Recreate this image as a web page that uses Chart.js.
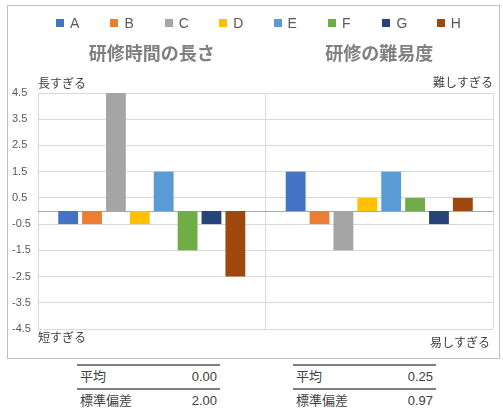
<!DOCTYPE html>
<html lang="ja">
<head>
<meta charset="UTF-8" />
<title>研修アンケート</title>
<script src="https://cdn.jsdelivr.net/npm/chart.js@4.4.1/dist/chart.umd.min.js"></script>
<style>
  body { margin: 0; background: #fff; font-family: "Liberation Sans", "Noto Sans CJK JP", sans-serif; color: #404040; }
  #box { position: absolute; left: 7px; top: 5px; width: 493px; height: 354px; border: 1px solid #bfbfbf; box-sizing: border-box; }
  #legend .item { position: absolute; top: 15px; height: 16px; line-height: 16px; font-size: 14px; color: #595959; white-space: nowrap; }
  #legend .sw { display: inline-block; width: 8px; height: 8px; margin-right: 6px; vertical-align: 1px; }
  .stats { position: absolute; top: 364px; width: 143px; font-size: 13px; color: #404040; }
  .stats .row { border-top: 2px solid #808080; height: 22px; line-height: 22px; padding: 0 3px; display: flex; justify-content: space-between; }
</style>
</head>
<body>

<div id="box"><canvas id="chart" width="491" height="352"></canvas></div>
<div id="legend"></div>
<div class="stats" id="stats0" style="left:77px"></div>
<div class="stats" id="stats1" style="left:293px"></div>

<script>
  // data
  const categories = ['研修時間の長さ', '研修の難易度'];
  const seriesNames = ['A', 'B', 'C', 'D', 'E', 'F', 'G', 'H'];
  const lengthValues = [-0.5, -0.5, 4.5, -0.5, 1.5, -1.5, -0.5, -2.5];
  const difficultyValues = [1.5, -0.5, -1.5, 0.5, 1.5, 0.5, -0.5, 0.5];
  const yTicks = [-4.5, -3.5, -2.5, -1.5, -0.5, 0.5, 1.5, 2.5, 3.5, 4.5];
  const cornerLabels = ['長すぎる', '短すぎる', '難しすぎる', '易しすぎる'];
  const statLabels = ['平均', '標準偏差'];

  const colors = ['#4472c4', '#ed7d31', '#a5a5a5', '#ffc000', '#5b9bd5', '#70ad47', '#264478', '#9e480e'];

  // legend
  const legend = document.getElementById('legend');
  seriesNames.forEach((name, i) => {
    const d = document.createElement('div');
    d.className = 'item';
    d.style.left = (56 + i * 54.4) + 'px';
    d.innerHTML = '<span class="sw" style="background:' + colors[i] + '"></span>' + name;
    legend.appendChild(d);
  });

  // mean / std table under each group
  function stats(vals) {
    const m = vals.reduce((a, b) => a + b, 0) / vals.length;
    const sd = Math.sqrt(vals.reduce((a, b) => a + (b - m) * (b - m), 0) / vals.length);
    return [m, sd];
  }
  [lengthValues, difficultyValues].forEach((vals, k) => {
    const el = document.getElementById('stats' + k);
    stats(vals).forEach((v, j) => {
      const r = document.createElement('div');
      r.className = 'row';
      r.innerHTML = '<span>' + statLabels[j] + '</span><span>' + v.toFixed(2) + '</span>';
      el.appendChild(r);
    });
  });

  // zero line + the small corner captions
  const extras = {
    id: 'extras',
    beforeDatasetsDraw(chart) {
      const { ctx, chartArea: a } = chart;
      const y0 = chart.scales.y.getPixelForValue(0);
      ctx.save();
      ctx.strokeStyle = '#a6a6a6';
      ctx.lineWidth = 1;
      ctx.beginPath();
      ctx.moveTo(a.left, Math.round(y0) + 0.5);
      ctx.lineTo(a.right, Math.round(y0) + 0.5);
      ctx.stroke();

      ctx.fillStyle = '#404040';
      ctx.font = '12px "Liberation Sans", "Noto Sans CJK JP", sans-serif';
      ctx.textBaseline = 'middle';
      ctx.textAlign = 'left';
      ctx.fillText(cornerLabels[0], a.left, a.top - 8);
      ctx.fillText(cornerLabels[1], a.left, a.bottom + 10);
      ctx.textAlign = 'right';
      ctx.fillText(cornerLabels[2], a.right, a.top - 9);
      ctx.fillText(cornerLabels[3], a.right - 3, a.bottom + 15);
      ctx.restore();
    }
  };

  Chart.defaults.font.family = '"Liberation Sans", "Noto Sans CJK JP", sans-serif';

  new Chart(document.getElementById('chart').getContext('2d'), {
    type: 'bar',
    data: {
      labels: categories,
      datasets: seriesNames.map((name, i) => ({
        label: name,
        data: [lengthValues[i], difficultyValues[i]],
        backgroundColor: colors[i],
        categoryPercentage: 0.84,
        barPercentage: 0.83
      }))
    },
    options: {
      responsive: false,
      animation: false,
      layout: { padding: { left: 4, right: 6, top: 35, bottom: 29 } },
      plugins: { legend: { display: false }, tooltip: { enabled: false } },
      scales: {
        x: {
          position: 'top',
          afterFit: s => { s.height = 52; },
          grid: { color: '#d9d9d9', drawTicks: false },
          border: { color: '#d9d9d9' },
          ticks: { color: '#808080', font: { size: 18, weight: 'bold' }, padding: 27, maxRotation: 0 }
        },
        y: {
          min: -4.5,
          max: 4.5,
          afterBuildTicks: s => { s.ticks = yTicks.map(v => ({ value: v })); },
          afterFit: s => { s.width = 26; },
          grid: { color: '#d9d9d9', drawTicks: false },
          border: { color: '#d9d9d9' },
          ticks: {
            color: '#595959',
            font: { size: 11 },
            crossAlign: 'far',
            callback: v => v.toFixed(1)
          }
        }
      }
    },
    plugins: [extras]
  });
</script>
</body>
</html>
